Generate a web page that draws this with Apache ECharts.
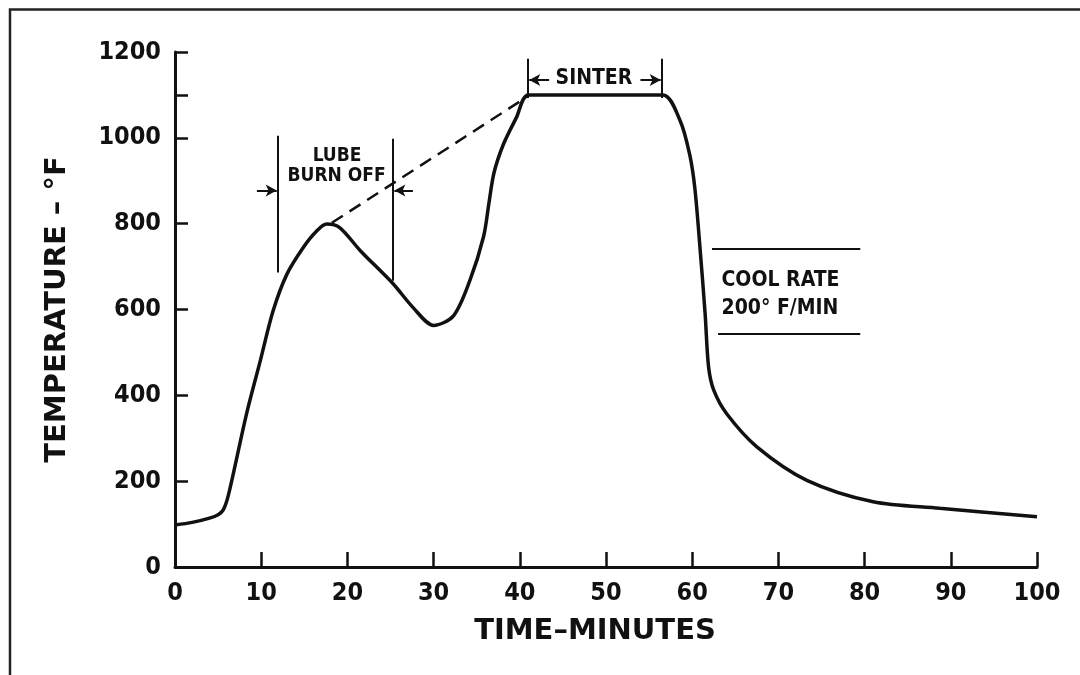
<!DOCTYPE html>
<html>
<head>
<meta charset="utf-8">
<script src="https://cdn.jsdelivr.net/npm/echarts@6/dist/echarts.min.js"></script>
<style>html,body{margin:0;padding:0;background:#fff}#c{width:1080px;height:675px}</style>
</head>
<body>
<div id="c"></div>
<script>
// ---- data ----
const timeMin = [0, 2, 4, 5, 5.6, 6.2, 8.3, 9.9, 11.4, 13, 14.9, 16.3, 17.6, 19.1, 21.5, 25.3, 27.6, 30, 32.3, 34.2, 35.8, 36.4, 37, 38.1, 39.6, 41, 48, 56.6, 58.6, 59.7, 60.3, 60.9, 61.5, 61.9, 62.5, 64, 67.5, 73.3, 81, 88.7, 100];
const tempF   = [98, 104, 114, 122, 133, 168, 357, 481, 598, 683, 745, 780, 799, 791, 737, 660, 605, 563, 585, 667, 770, 845, 918, 985, 1047, 1100, 1100, 1100, 1040, 962, 884, 745, 590, 466, 412, 357, 280, 202, 152, 137, 117];
const xTickLabels = [0, 10, 20, 30, 40, 50, 60, 70, 80, 90, 100];
const xTickMarks = [10, 20, 30, 40, 50, 60, 70, 80, 90, 100];
const yTickLabels = [0, 200, 400, 600, 800, 1000, 1200];
const yTickMarks = [200, 400, 600, 800, 1000, 1100, 1200];
const xTitle = 'TIME–MINUTES';
const yTitle = 'TEMPERATURE – °F';
// annotation anchors (data units: minutes, °F)
const dashedFrom = [18.2, 802], dashedTo = [40.8, 1095];
const lubeBars = [[[11.95, 1005], [11.95, 686]], [[25.3, 998], [25.3, 667]]];
const lubeArrows = [[[9.5, 877], [11.8, 877]], [[27.6, 877], [25.45, 877]]];
const sinterBars = [[[40.95, 1184], [40.95, 1093]], [[56.5, 1184], [56.5, 1093]]];
const sinterArrows = [[[43.4, 1135], [41.1, 1135]], [[54.0, 1135], [56.35, 1135]]];
const coolLines = [[[62.3, 742], [79.5, 742]], [[63.0, 544], [79.5, 544]]];
const centerTexts = [{name: 'LUBE', at: [18.8, 958], size: 19}, {name: 'BURN OFF', at: [18.75, 910], size: 19}, {name: 'SINTER', at: [48.6, 1137], size: 21}];
const leftTexts = [{name: 'COOL RATE', at: [63.4, 667]}, {name: '200° F/MIN', at: [63.4, 603]}];

// ---- chart ----
const FONT = '"DejaVu Sans Condensed", "DejaVu Sans", sans-serif';
const TFONT = '"DejaVu Sans", sans-serif';
const INK = '#111';
const chart = echarts.init(document.getElementById('c'), null, {renderer: 'canvas'});
const seg = (p, sym) => [{coord: p[0], symbol: 'none'}, {coord: p[1], symbol: sym || 'none'}];
const markData = [];
lubeBars.forEach(p => markData.push(seg(p)));
sinterBars.forEach(p => markData.push(seg(p)));
coolLines.forEach(p => markData.push(seg(p)));
lubeArrows.forEach(p => markData.push(seg(p, 'arrow')));
sinterArrows.forEach(p => markData.push(seg(p, 'arrow')));

const option = {
  animation: false,
  backgroundColor: '#fff',
  graphic: [{
    type: 'polyline', silent: true,
    shape: {points: [[10, 676], [10, 9.5], [1081, 9.5]]},
    style: {stroke: '#222', lineWidth: 2.5, fill: null}
  }],
  grid: {left: 175, right: 43, top: 52, bottom: 108},
  xAxis: {
    type: 'value', min: 0, max: 100, interval: 10,
    axisLine: {lineStyle: {color: INK, width: 3}},
    axisTick: {show: true, inside: true, length: 15, customValues: xTickMarks, lineStyle: {color: INK, width: 2.5}},
    axisLabel: {customValues: xTickLabels, formatter: v => String(v), margin: 14, color: INK, fontFamily: FONT, fontSize: 25, fontWeight: 'bold'},
    splitLine: {show: false},
    name: xTitle, nameLocation: 'middle', nameGap: 50,
    nameTextStyle: {color: INK, fontFamily: TFONT, fontSize: 29, fontWeight: 'bold', padding: [0, 22, 0, 0]}
  },
  yAxis: {
    type: 'value', min: 0, max: 1200, interval: 200,
    axisLine: {show: true, lineStyle: {color: INK, width: 3}},
    axisTick: {show: true, inside: true, length: 13, customValues: yTickMarks, lineStyle: {color: INK, width: 2.5}},
    axisLabel: {customValues: yTickLabels, formatter: v => String(v), margin: 14, color: INK, fontFamily: FONT, fontSize: 25, fontWeight: 'bold'},
    splitLine: {show: false},
    name: yTitle, nameLocation: 'middle', nameGap: 103, nameRotate: 90,
    nameTextStyle: {color: INK, fontFamily: TFONT, fontSize: 29, fontWeight: 'bold'}
  },
  series: [
    {
      type: 'line', data: timeMin.map((t, i) => [t, tempF[i]]),
      showSymbol: false, smooth: 0.3, silent: true,
      lineStyle: {color: INK, width: 3.5},
      markLine: {
        silent: true, animation: false, symbolSize: [9, 11],
        label: {show: false},
        lineStyle: {color: INK, width: 2, type: 'solid'},
        data: markData
      },
      z: 3
    },
    {
      type: 'line', data: [dashedFrom, dashedTo], showSymbol: false, silent: true,
      lineStyle: {color: INK, width: 2.5, type: [13, 8]}, z: 2
    },
    {
      type: 'scatter', symbolSize: 0, silent: true, itemStyle: {opacity: 1},
      data: centerTexts.map(d => ({name: d.name, value: d.at, label: {fontSize: d.size}})),
      label: {show: true, position: 'inside', formatter: '{b}', color: INK, fontFamily: FONT, fontWeight: 'bold', lineHeight: 20}
    },
    {
      type: 'scatter', symbolSize: 0, silent: true, itemStyle: {opacity: 1},
      data: leftTexts.map(d => ({name: d.name, value: d.at})),
      label: {show: true, position: 'right', distance: 0, formatter: '{b}', color: INK, fontFamily: FONT, fontSize: 21, fontWeight: 'bold'}
    }
  ]
};
chart.setOption(option);
</script>
</body>
</html>
